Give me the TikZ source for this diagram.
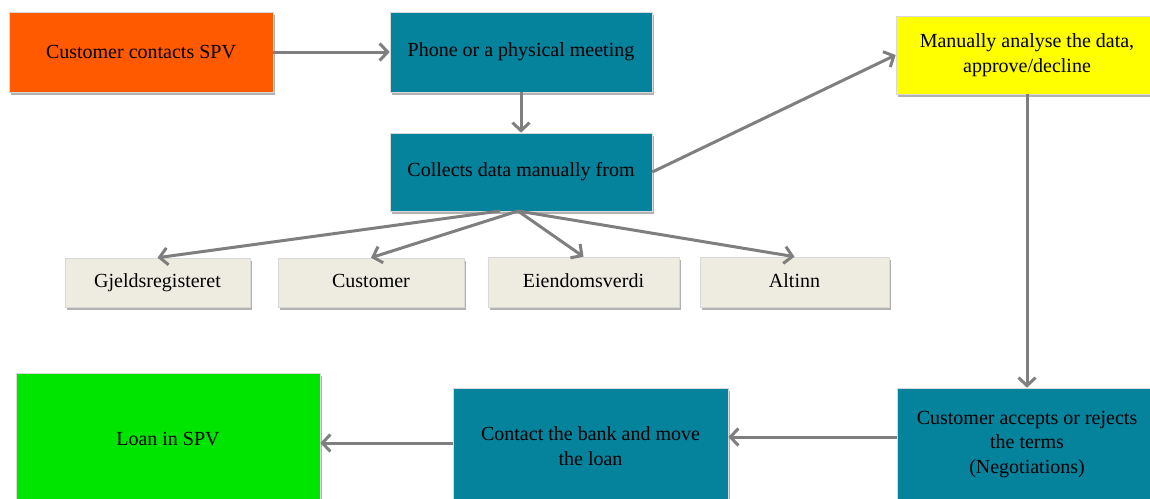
\documentclass[tikz,border=0pt]{standalone}
\usepackage{fontspec}
\setmainfont{Liberation Serif}
\usetikzlibrary{arrows.meta,shadows}
\definecolor{orangebox}{HTML}{FF5A00}
\definecolor{tealbox}{HTML}{05839D}
\definecolor{yellowbox}{HTML}{FFFF00}
\definecolor{greenbox}{HTML}{00E500}
\definecolor{srcbox}{HTML}{EEECE1}
\definecolor{arrowgray}{HTML}{7F7F7F}
\begin{document}
\begin{tikzpicture}[x=1pt,y=-1pt,
  box/.style={rectangle, inner sep=0pt, align=center, draw=white!85!black, line width=0.6pt,
    font=\fontsize{20}{24.5}\selectfont, text=black,
    drop shadow={shadow xshift=1.5pt, shadow yshift=-2.5pt, opacity=0.3, fill=black}},
  src/.style={box, fill=srcbox, text height=14pt, text depth=4pt},
  arr/.style={draw=arrowgray, line width=3pt, -{Straight Barb[length=8pt,width=17pt]}}]
\useasboundingbox (0,0) rectangle (1150,498);
\clip (0,0) rectangle (1150,498);
\fill[white] (0,0) rectangle (1150,498);
% boxes
\node[box, fill=orangebox, minimum width=264pt, minimum height=80pt] (cust) at (141,52) {Customer contacts SPV};
\node[box, fill=tealbox, minimum width=262pt, minimum height=80pt] (phone) at (521,52) {Phone or a physical meeting};
\node[box, fill=tealbox, minimum width=262pt, minimum height=78pt] (collect) at (521,172) {Collects data manually from};
\node[box, fill=yellowbox, minimum width=262pt, minimum height=78pt] (analyse) at (1027,55) {Manually analyse the data,\\approve/decline};
\node[src, minimum width=185pt, minimum height=49pt] (gj) at (157.5,282.5) {Gjeldsregisteret};
\node[src, minimum width=186pt, minimum height=49pt] (cs) at (371,282.5) {Customer};
\node[src, minimum width=191pt, minimum height=50pt] (eien) at (583.5,282) {Eiendomsverdi};
\node[src, minimum width=189pt, minimum height=50pt] (alt) at (794.5,282) {Altinn};
\node[box, fill=greenbox, minimum width=304pt, minimum height=132pt] (loan) at (168,439) {Loan in SPV};
\node[box, fill=tealbox, minimum width=275pt, minimum height=116pt] (contact) at (590.5,446) {Contact the bank and move\\the loan};
\node[box, fill=tealbox, minimum width=260pt, minimum height=113pt] (accept) at (1027,444.5) {Customer accepts or rejects\\the terms\\(Negotiations)};
% connectors
\coordinate (f1) at (500,211);
\coordinate (f2) at (518,211);
\draw[arr] (cust.east) -- (phone.west);
\draw[arr] (phone.south) -- (collect.north);
\draw[arr] (collect.east) -- (analyse.west);
\draw[arr] (analyse.south) -- (accept.north);
\draw[arr] (accept.west |- 0,437) -- (contact.east |- 0,437);
\draw[arr] (contact.west |- 0,443) -- (loan.east |- 0,443);
\draw[arr] (f1) -- (gj.north);
\draw[arr] (f2) -- (cs.north);
\draw[arr] (f2) -- (eien.north);
\draw[arr] (f2) -- (alt.north);
\end{tikzpicture}
\end{document}
